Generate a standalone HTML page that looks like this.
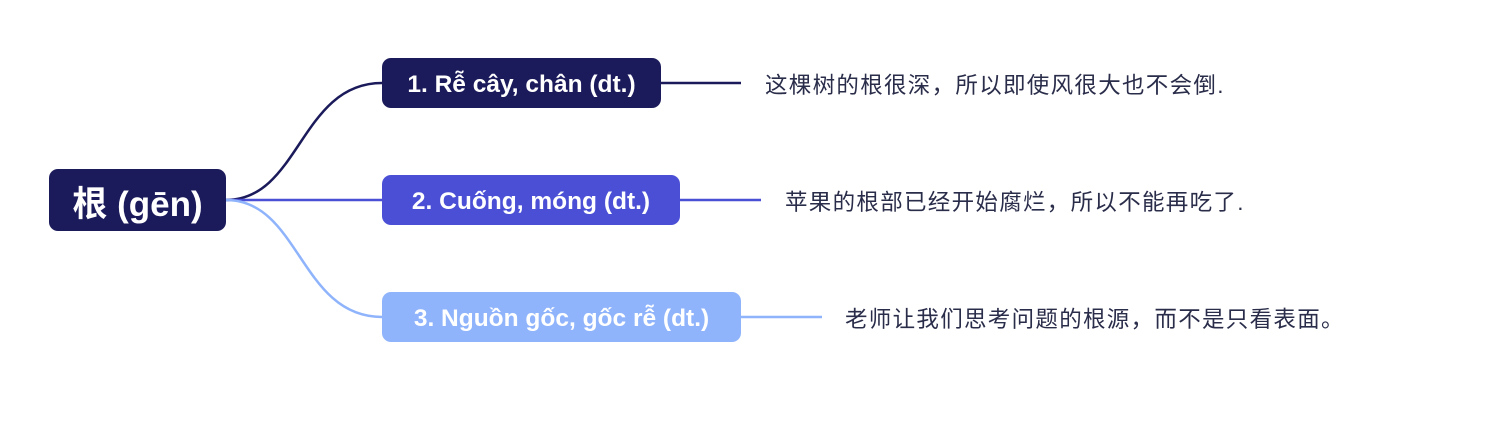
<!DOCTYPE html>
<html><head><meta charset="utf-8"><style>
body{margin:0;width:1491px;height:428px;background:#fff;position:relative;overflow:hidden;font-family:"Liberation Sans","Noto Sans CJK SC",sans-serif}
.n{position:absolute;color:#fff;font-weight:bold;border-radius:9px;display:flex;align-items:center;justify-content:center;white-space:nowrap;padding-top:3px;box-sizing:border-box}
.t{position:absolute;font-size:22.5px;letter-spacing:1.3px;color:#2a2d4a;white-space:nowrap;line-height:1}
</style></head><body>
<svg width="1491" height="428" style="position:absolute;left:0;top:0">
<path d="M226 200 C300 200 300 83 382 83" stroke="#1b1a5b" stroke-width="2.5" fill="none"/>
<path d="M226 200 L382 200" stroke="#4a4fd6" stroke-width="2.5" fill="none"/>
<path d="M226 200 C300 200 300 317 382 317" stroke="#8fb4fc" stroke-width="2.5" fill="none"/>
<path d="M660 83 L741 83" stroke="#1b1a5b" stroke-width="2.5"/>
<path d="M679 200 L761 200" stroke="#4a4fd6" stroke-width="2.5"/>
<path d="M740 317 L822 317" stroke="#8fb4fc" stroke-width="2.5"/>
</svg>
<div class="n" style="left:49px;top:169px;width:177px;height:62px;background:#1b1a5b;font-size:35px">根 (gēn)</div>
<div class="n" style="left:382px;top:58px;width:279px;height:50px;background:#1b1a5b;font-size:24.5px">1. Rễ cây, chân (dt.)</div>
<div class="n" style="left:382px;top:175px;width:298px;height:50px;background:#4a4fd6;font-size:24.5px">2. Cuống, móng (dt.)</div>
<div class="n" style="left:382px;top:292px;width:359px;height:50px;background:#8fb4fc;font-size:24.5px">3. Nguồn gốc, gốc rễ (dt.)</div>
<div class="t" style="left:765px;top:75px">这棵树的根很深，所以即使风很大也不会倒.</div>
<div class="t" style="left:785px;top:192px">苹果的根部已经开始腐烂，所以不能再吃了.</div>
<div class="t" style="left:845px;top:309px">老师让我们思考问题的根源，而不是只看表面。</div>
</body></html>
